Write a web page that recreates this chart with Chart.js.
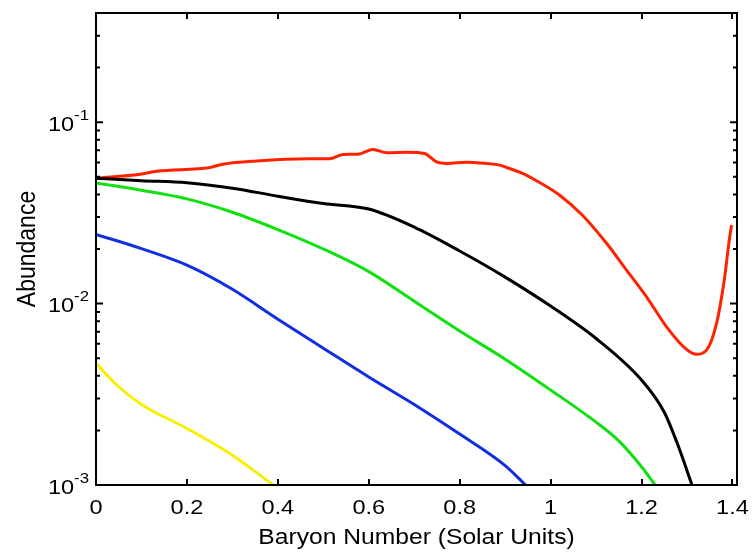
<!DOCTYPE html>
<html>
<head>
<meta charset="utf-8">
<script src="https://cdn.jsdelivr.net/npm/chart.js@4/dist/chart.umd.min.js"></script>
<style>
  html, body { margin: 0; padding: 0; background: #ffffff; }
  #wrap { width: 753px; height: 553px; }
</style>
</head>
<body>
<div id="wrap"><canvas id="c" width="753" height="553"></canvas></div>
<script>
// Axis ticks and labels
const xTicks = [0, 0.2, 0.4, 0.6, 0.8, 1, 1.2, 1.4];
const yTicks = [0.001, 0.01, 0.1];
const yTickExp = ['-3', '-2', '-1'];
const xTitle = 'Baryon Number (Solar Units)';
const yTitle = 'Abundance';

// Abundance vs. enclosed baryon number, one pair of arrays per species
const blackX = [0, 0.1, 0.2, 0.3, 0.4, 0.5, 0.6, 0.7, 0.8, 0.9, 1.0, 1.1, 1.2, 1.25, 1.28, 1.311];
const blackY = [0.0491, 0.0476, 0.0464, 0.0433, 0.0391, 0.0356, 0.0332, 0.0264, 0.0195, 0.0140, 0.00969, 0.00642, 0.00379, 0.00252, 0.00166, 0.0010];

const redX = [0, 0.097, 0.134, 0.251, 0.279, 0.354, 0.470, 0.514, 0.543, 0.576, 0.609, 0.640, 0.684, 0.723, 0.749, 0.771, 0.815, 0.859, 0.888, 0.903, 0.932, 0.960, 1.020, 1.070, 1.123, 1.167, 1.211, 1.255, 1.299, 1.321, 1.343, 1.365, 1.382, 1.393, 1.398];
const redY = [0.0491, 0.0517, 0.0537, 0.0563, 0.0587, 0.0612, 0.0628, 0.0628, 0.0664, 0.0666, 0.0707, 0.0678, 0.0684, 0.0672, 0.0604, 0.0592, 0.0602, 0.0592, 0.0580, 0.0563, 0.0530, 0.0490, 0.0396, 0.0307, 0.0215, 0.0153, 0.0109, 0.00745, 0.00559, 0.00525, 0.00554, 0.00778, 0.0135, 0.0224, 0.0271];

const greenX = [0, 0.1, 0.2, 0.3, 0.4, 0.5, 0.6, 0.7, 0.8, 0.9, 1.0, 1.1, 1.15, 1.2, 1.23];
const greenY = [0.0463, 0.0422, 0.0378, 0.0319, 0.0256, 0.0200, 0.0150, 0.0103, 0.00706, 0.00494, 0.00334, 0.00222, 0.00175, 0.00126, 0.0010];

const blueX = [0, 0.1, 0.2, 0.3, 0.4, 0.5, 0.6, 0.7, 0.8, 0.9, 0.945];
const blueY = [0.0241, 0.0201, 0.0163, 0.0120, 0.00821, 0.00568, 0.00394, 0.00278, 0.00191, 0.00128, 0.0010];

const yellowX = [0, 0.05, 0.1, 0.2, 0.3, 0.39];
const yellowY = [0.00468, 0.00348, 0.00278, 0.00205, 0.00146, 0.0010];

const FONT = '"Liberation Sans", Arial, Helvetica, sans-serif';
const STRETCH = 1.12;

function pts(xs, ys) { return xs.map((x, i) => ({ x: x, y: ys[i] })); }
function series(xs, ys, color) {
  return {
    data: pts(xs, ys),
    borderColor: color,
    borderWidth: 3,
    pointRadius: 0,
    fill: false,
    cubicInterpolationMode: 'monotone'
  };
}

// Draws text with a slight horizontal stretch
function stretchedText(ctx, text, x, y, font, align) {
  ctx.save();
  ctx.font = font;
  ctx.textBaseline = 'alphabetic';
  const w = ctx.measureText(text).width * STRETCH;
  let left = x;
  if (align === 'center') left = x - w / 2;
  else if (align === 'right') left = x - w;
  ctx.translate(left, y);
  ctx.scale(STRETCH, 1);
  ctx.textAlign = 'left';
  ctx.fillText(text, 0, 0);
  ctx.restore();
  return w;
}

// Box, inward ticks on all four sides, tick labels and axis titles
const frame = {
  id: 'frame',
  afterDraw(chart) {
    const ctx = chart.ctx;
    const a = chart.chartArea;
    const xs = chart.scales.x, ys = chart.scales.y;
    ctx.save();
    ctx.strokeStyle = '#000';
    ctx.fillStyle = '#000';
    ctx.lineWidth = 2;
    ctx.strokeRect(a.left, a.top, a.right - a.left, a.bottom - a.top);

    ctx.beginPath();
    xTicks.forEach(v => {
      const px = Math.round(xs.getPixelForValue(v));
      ctx.moveTo(px, a.bottom); ctx.lineTo(px, a.bottom - 6);
      ctx.moveTo(px, a.top); ctx.lineTo(px, a.top + 6);
    });
    // log minor ticks: 2..9 times each decade, major at decades
    for (let d = -3; d <= 0; d++) {
      for (let m = 1; m <= 9; m++) {
        const v = m * Math.pow(10, d);
        if (v < ys.min - 1e-12 || v > ys.max + 1e-12) continue;
        const py = ys.getPixelForValue(v);
        const len = m === 1 ? 7 : 4;
        ctx.moveTo(a.left, py); ctx.lineTo(a.left + len, py);
        ctx.moveTo(a.right, py); ctx.lineTo(a.right - len, py);
      }
    }
    ctx.stroke();

    const tickFont = '21px ' + FONT;
    const supFont = '15px ' + FONT;
    xTicks.forEach(v => {
      stretchedText(ctx, String(v), xs.getPixelForValue(v), a.bottom + 29, tickFont, 'center');
    });

    yTicks.forEach((v, i) => {
      const py = ys.getPixelForValue(v);
      ctx.font = supFont;
      const ws = ctx.measureText(yTickExp[i]).width * STRETCH;
      ctx.font = tickFont;
      const wb = ctx.measureText('10').width * STRETCH;
      const right = a.left - 7;
      stretchedText(ctx, '10', right - ws - wb, py + 8.5, tickFont, 'left');
      stretchedText(ctx, yTickExp[i], right - ws, py - 2.5, supFont, 'left');
    });

    stretchedText(ctx, xTitle, (a.left + a.right) / 2, 544, '22px ' + FONT, 'center');

    ctx.save();
    ctx.font = '23px ' + FONT;
    ctx.textAlign = 'center';
    ctx.textBaseline = 'alphabetic';
    ctx.translate(35, (a.top + a.bottom) / 2);
    ctx.scale(STRETCH, 1);
    ctx.rotate(-Math.PI / 2);
    ctx.fillText(yTitle, 0, 0);
    ctx.restore();

    ctx.restore();
  }
};

new Chart(document.getElementById('c'), {
  type: 'line',
  data: {
    datasets: [
      series(blackX, blackY, '#000000'),
      series(redX, redY, '#ff2200'),
      series(greenX, greenY, '#10e010'),
      series(blueX, blueY, '#1030e0'),
      series(yellowX, yellowY, '#f8f000')
    ]
  },
  options: {
    responsive: false,
    animation: false,
    devicePixelRatio: 1,
    layout: { padding: { top: 13, right: 16, left: 0, bottom: 0 } },
    plugins: { legend: { display: false }, tooltip: { enabled: false } },
    scales: {
      x: {
        type: 'linear', min: 0, max: 1.41,
        grid: { display: false }, border: { display: false },
        ticks: { display: false },
        afterBuildTicks: s => { s.ticks = xTicks.map(v => ({ value: v })); },
        afterFit: s => { s.height = 68; }
      },
      y: {
        type: 'logarithmic', min: 0.001, max: 0.4,
        grid: { display: false }, border: { display: false },
        ticks: { display: false },
        afterBuildTicks: s => { s.ticks = yTicks.map(v => ({ value: v })); },
        afterFit: s => { s.width = 96; }
      }
    }
  },
  plugins: [frame]
});
</script>
</body>
</html>
